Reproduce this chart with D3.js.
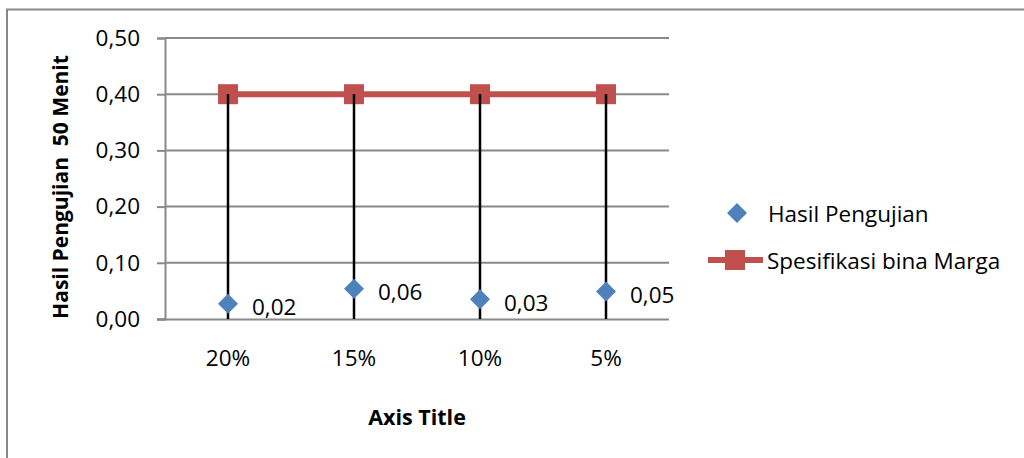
<!DOCTYPE html>
<html>
<head>
<meta charset="utf-8">
<script src="https://cdn.jsdelivr.net/npm/d3@7"></script>
<style>
  html, body { margin: 0; padding: 0; background: #fff; }
  svg { display: block; }
  text { font-family: "Open Sans", "Liberation Sans", sans-serif; fill: #000; }
</style>
</head>
<body>
<svg id="chart" width="1024" height="458"></svg>
<script>
// ---- data ----
const categories = ["20%", "15%", "10%", "5%"];
const hasilValues = [0.027, 0.054, 0.035, 0.049];
const hasilLabels = ["0,02", "0,06", "0,03", "0,05"];
const spesifikasiValues = [0.40, 0.40, 0.40, 0.40];
const yTicks = [0, 0.1, 0.2, 0.3, 0.4, 0.5];
const seriesNames = ["Hasil Pengujian", "Spesifikasi bina Marga"];
const yAxisTitle = "Hasil Pengujian  50 Menit";
const xAxisTitle = "Axis Title";

// ---- layout ----
const W = 1024, H = 458;
const plot = { left: 165, right: 669, top: 38, bottom: 319 };
const blue = "#4F81BD", red = "#C0504D", grid = "#898989";
const fs = "22.5px", fsB = "21px";

const svg = d3.select("#chart");

// outer chart frame (clipped on right/bottom)
svg.append("rect").attr("x", 7).attr("y", 9.5).attr("width", W + 20).attr("height", H + 20)
  .attr("fill", "#fff").attr("stroke", "#888").attr("stroke-width", 2);

const x = d3.scaleBand().domain(categories).range([plot.left, plot.right]).padding(0);
const y = d3.scaleLinear().domain([0, 0.5]).range([plot.bottom, plot.top]);

// gridlines
svg.append("g").selectAll("line").data(yTicks.filter(d => d > 0)).join("line")
  .attr("x1", plot.left).attr("x2", plot.right)
  .attr("y1", d => y(d)).attr("y2", d => y(d))
  .attr("stroke", grid).attr("stroke-width", 2);

// y axis
const fmt = d => d3.format(".2f")(d).replace(".", ",");
const yAxis = svg.append("g").attr("transform", `translate(${plot.left},0)`)
  .call(d3.axisLeft(y).tickValues(yTicks).tickFormat(fmt).tickSize(8).tickPadding(17));
yAxis.select(".domain").attr("stroke", grid).attr("stroke-width", 2);
yAxis.selectAll(".tick line").attr("stroke", grid).attr("stroke-width", 2);
yAxis.selectAll(".tick text").style("font-size", fs).style("font-family", '"Open Sans", sans-serif').attr("fill", "#000");

// x axis
const xAxis = svg.append("g").attr("transform", `translate(0,${plot.bottom})`)
  .call(d3.axisBottom(x).tickSize(0).tickPadding(31));
xAxis.select(".domain").attr("stroke", grid).attr("stroke-width", 2).attr("d", `M${plot.left - 8},0.5H${plot.right}`);
xAxis.selectAll(".tick text").style("font-size", fs).style("font-family", '"Open Sans", sans-serif').attr("fill", "#000");

const cx = c => x(c) + x.bandwidth() / 2;

// red line series
const line = d3.line().x((d, i) => cx(categories[i])).y(d => y(d));
svg.append("path").datum(spesifikasiValues).attr("d", line)
  .attr("fill", "none").attr("stroke", red).attr("stroke-width", 6);

const sq = 20;
svg.append("g").selectAll("rect").data(spesifikasiValues).join("rect")
  .attr("x", (d, i) => cx(categories[i]) - sq / 2).attr("y", d => y(d) - sq / 2)
  .attr("width", sq).attr("height", sq).attr("fill", red);

// drop lines
svg.append("g").selectAll("line").data(spesifikasiValues).join("line")
  .attr("x1", (d, i) => cx(categories[i])).attr("x2", (d, i) => cx(categories[i]))
  .attr("y1", d => y(d)).attr("y2", y(0))
  .attr("stroke", "#000").attr("stroke-width", 2.5);

// diamonds
const dm = 10;
svg.append("g").selectAll("path").data(hasilValues).join("path")
  .attr("transform", (d, i) => `translate(${cx(categories[i])},${y(d)})`)
  .attr("d", `M0,${-dm}L${dm},0L0,${dm}L${-dm},0Z`).attr("fill", blue);

// data labels
svg.append("g").selectAll("text").data(hasilValues).join("text")
  .attr("x", (d, i) => cx(categories[i]) + 24).attr("y", d => y(d) + 3)
  .attr("dominant-baseline", "central").style("font-size", fs)
  .text((d, i) => hasilLabels[i]);

// axis titles
svg.append("text").attr("transform", `translate(60,187) rotate(-90)`)
  .attr("text-anchor", "middle").attr("dominant-baseline", "central")
  .style("white-space", "pre")
  .style("font-size", fsB).style("font-weight", "bold").text(yAxisTitle);
svg.append("text").attr("x", (plot.left + plot.right) / 2).attr("y", 416)
  .attr("text-anchor", "middle").attr("dominant-baseline", "central")
  .style("font-size", "21.5px").style("font-weight", "bold").text(xAxisTitle);

// legend
const lg = svg.append("g");
lg.append("path").attr("transform", "translate(737,213)")
  .attr("d", `M0,${-dm}L${dm},0L0,${dm}L${-dm},0Z`).attr("fill", blue);
lg.append("text").attr("x", 768).attr("y", 213).attr("dominant-baseline", "central")
  .style("font-size", fs).text(seriesNames[0]);
lg.append("line").attr("x1", 708).attr("x2", 763).attr("y1", 260).attr("y2", 260)
  .attr("stroke", red).attr("stroke-width", 6);
lg.append("rect").attr("x", 735 - sq / 2).attr("y", 260 - sq / 2).attr("width", sq).attr("height", sq).attr("fill", red);
lg.append("text").attr("x", 767).attr("y", 260).attr("dominant-baseline", "central")
  .style("font-size", fs).text(seriesNames[1]);
</script>
</body>
</html>
